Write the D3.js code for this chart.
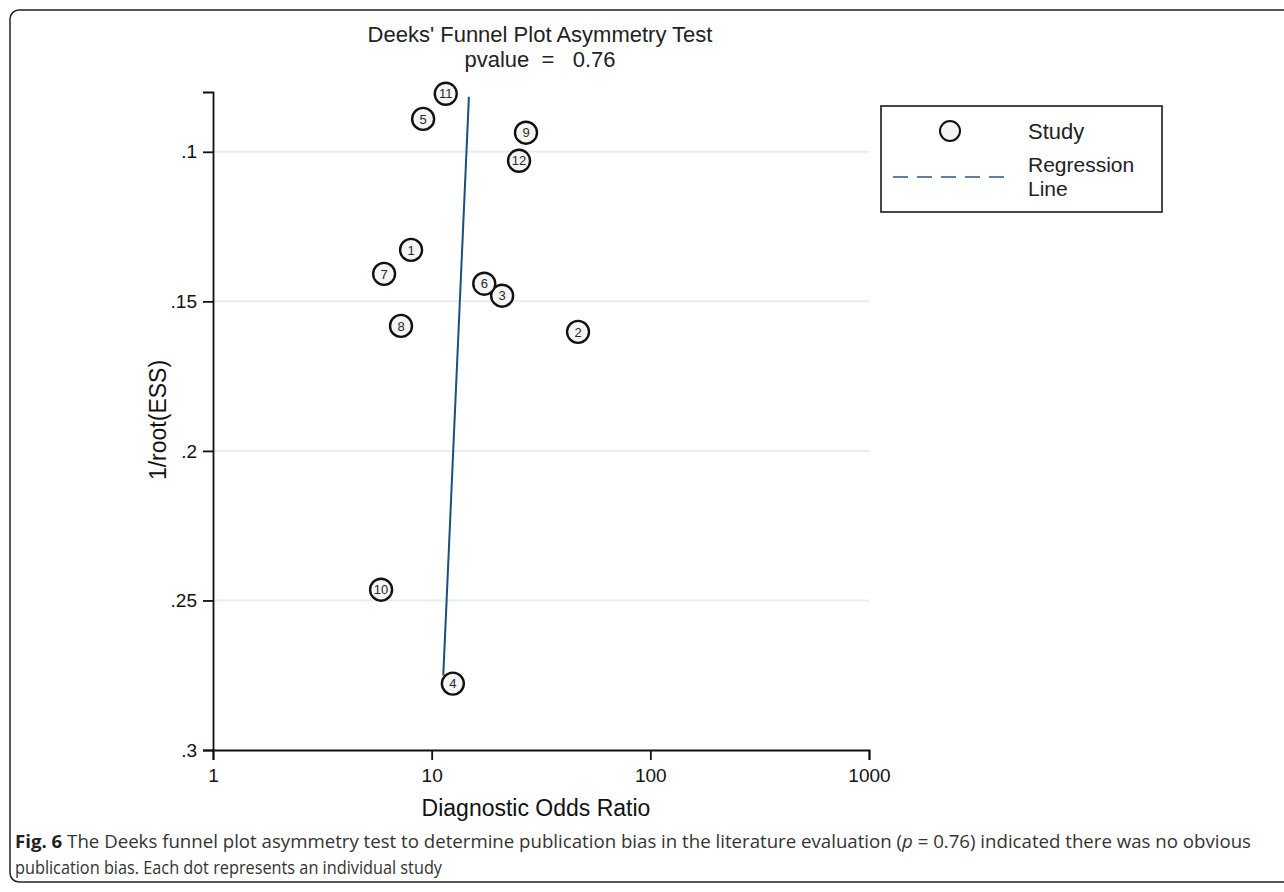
<!DOCTYPE html>
<html>
<head>
<meta charset="utf-8">
<script src="https://cdn.jsdelivr.net/npm/d3@7"></script>
<style>
  body { margin: 0; background: #fff; }
  svg { display: block; }
</style>
</head>
<body>
<div id="chart"></div>
<script>
// study data
const studyIds = [1, 2, 3, 4, 5, 6, 7, 8, 9, 10, 11, 12];
const dor      = [8.05, 46.7, 21.0, 12.5, 9.14, 17.4, 6.06, 7.24, 27.0, 5.87, 11.6, 25.1];
const invEss   = [0.1328, 0.1602, 0.1481, 0.2778, 0.0890, 0.1441, 0.1408, 0.1582, 0.0936, 0.2464, 0.0806, 0.1030];

// regression line end points
const regDor = [11.3, 14.8];
const regInvEss = [0.2751, 0.0816];

const xTicks = [1, 10, 100, 1000];
const yTicks = [0.1, 0.15, 0.2, 0.25, 0.3];

const W = 1284, H = 892;
const plot = { left: 213, right: 869, top: 92, bottom: 750 };

const svg = d3.select("#chart").append("svg")
    .attr("width", W)
    .attr("height", H)
    .style("font-family", "'Liberation Sans', Arial, sans-serif");

// figure frame (rounded, runs off the right side)
svg.append("rect")
    .attr("x", 10).attr("y", 10)
    .attr("width", W + 20).attr("height", 872)
    .attr("rx", 9)
    .attr("fill", "none")
    .attr("stroke", "#222")
    .attr("stroke-width", 1.5);

const x = d3.scaleLog().domain([1, 1000]).range([plot.left, plot.right]);
const y = d3.scaleLinear().domain([0.08, 0.3]).range([plot.top, plot.bottom]);

// gridlines
svg.append("g")
    .selectAll("line")
    .data(yTicks.filter(d => d < 0.3))
    .join("line")
    .attr("x1", plot.left).attr("x2", plot.right)
    .attr("y1", d => y(d)).attr("y2", d => y(d))
    .attr("stroke", "#e4edf1")
    .attr("stroke-width", 2);

// axes
const yAxis = svg.append("g")
    .attr("transform", `translate(${plot.left},0)`)
    .call(d3.axisLeft(y).tickValues(yTicks).tickSize(10).tickPadding(6)
        .tickFormat(d => d3.format(".2~f")(d).replace(/^0/, "")));

const xAxis = svg.append("g")
    .attr("transform", `translate(0,${plot.bottom})`)
    .call(d3.axisBottom(x).tickValues(xTicks).tickSize(10).tickPadding(9)
        .tickFormat(d3.format("d")));

[xAxis, yAxis].forEach(a => {
    a.select(".domain").attr("stroke", "#111").attr("stroke-width", 1.8);
    a.selectAll(".tick line").attr("stroke", "#111").attr("stroke-width", 1.8);
    a.selectAll(".tick text").attr("fill", "#111").style("font-size", "19px");
});

// regression line
svg.append("line")
    .attr("x1", x(regDor[0])).attr("y1", y(regInvEss[0]))
    .attr("x2", x(regDor[1])).attr("y2", y(regInvEss[1]))
    .attr("stroke", "#1d4f7c")
    .attr("stroke-width", 2);

// study markers
const pts = studyIds.map((id, i) => ({ id, x: dor[i], y: invEss[i] }));
const g = svg.append("g").selectAll("g")
    .data(pts)
    .join("g")
    .attr("transform", d => `translate(${x(d.x)},${y(d.y)})`);
g.append("circle")
    .attr("r", 11)
    .attr("fill", "#f5f5f5")
    .attr("stroke", "#111")
    .attr("stroke-width", 2.4);
g.append("text")
    .attr("text-anchor", "middle")
    .attr("dy", "0.36em")
    .style("font-size", "13px")
    .attr("fill", "#2a2a2a")
    .text(d => d.id);

// titles
svg.append("text")
    .attr("x", 540).attr("y", 42)
    .attr("text-anchor", "middle")
    .style("font-size", "22px")
    .attr("fill", "#222")
    .text("Deeks' Funnel Plot Asymmetry Test");
svg.append("text")
    .attr("x", 540).attr("y", 67)
    .attr("text-anchor", "middle")
    .style("font-size", "22px")
    .attr("fill", "#222")
    .attr("xml:space", "preserve")
    .text("pvalue  =   0.76");

svg.append("text")
    .attr("x", 536).attr("y", 816)
    .attr("text-anchor", "middle")
    .style("font-size", "23px")
    .attr("fill", "#111")
    .text("Diagnostic Odds Ratio");

svg.append("text")
    .attr("transform", `translate(166,420) rotate(-90)`)
    .attr("text-anchor", "middle")
    .style("font-size", "23px")
    .attr("fill", "#111")
    .text("1/root(ESS)");

// legend
const lg = svg.append("g").attr("transform", "translate(881,106)");
lg.append("rect")
    .attr("width", 281).attr("height", 106)
    .attr("fill", "#fff")
    .attr("stroke", "#333")
    .attr("stroke-width", 1.8);
lg.append("circle")
    .attr("cx", 69).attr("cy", 25).attr("r", 10)
    .attr("fill", "#f3f3f3").attr("stroke", "#111").attr("stroke-width", 2);
lg.append("text").attr("x", 147).attr("y", 33)
    .style("font-size", "22px").attr("fill", "#222").text("Study");
lg.append("line")
    .attr("x1", 12).attr("x2", 127).attr("y1", 71).attr("y2", 71)
    .attr("stroke", "#5b7ea5").attr("stroke-width", 1.8)
    .attr("stroke-dasharray", "15,9");
lg.append("text").attr("x", 147).attr("y", 66)
    .style("font-size", "21px").attr("fill", "#222").text("Regression");
lg.append("text").attr("x", 147).attr("y", 90)
    .style("font-size", "21px").attr("fill", "#222").text("Line");

// caption
const cap1 = svg.append("text")
    .attr("x", 15).attr("y", 848)
    .style("font-family", "'Open Sans', 'Noto Sans', sans-serif")
    .style("font-size", "18.5px")
    .attr("fill", "#333")
    .attr("textLength", 1236)
    .attr("lengthAdjust", "spacingAndGlyphs");
cap1.append("tspan").style("font-weight", "bold").attr("fill", "#222").text("Fig. 6");
cap1.append("tspan").text("  The Deeks funnel plot asymmetry test to determine publication bias in the literature evaluation (");
cap1.append("tspan").style("font-style", "italic").text("p");
cap1.append("tspan").text(" = 0.76) indicated there was no obvious");

svg.append("text")
    .attr("x", 15).attr("y", 874)
    .style("font-family", "'Open Sans', 'Noto Sans', sans-serif")
    .style("font-size", "18.5px")
    .attr("fill", "#333")
    .attr("textLength", 427)
    .attr("lengthAdjust", "spacingAndGlyphs")
    .text("publication bias. Each dot represents an individual study");
</script>
</body>
</html>
